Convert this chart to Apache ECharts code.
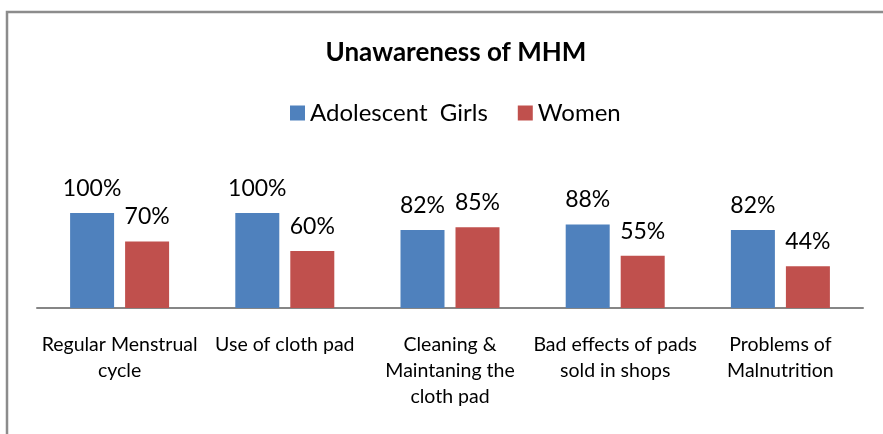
<!DOCTYPE html>
<html>
<head>
<meta charset="utf-8">
<script src="https://cdn.jsdelivr.net/npm/echarts@6/dist/echarts.min.js"></script>
<style>
  html, body { margin: 0; padding: 0; background: #fff; }
  #chart { width: 883px; height: 434px; }
</style>
</head>
<body>
<div id="chart"></div>
<script>
var categories = [
  'Regular Menstrual\ncycle',
  'Use of cloth pad',
  'Cleaning &\nMaintaning the\ncloth pad',
  'Bad effects of pads\nsold in shops',
  'Problems of\nMalnutrition'
];
var girls = [100, 100, 82, 88, 82];
var women = [70, 60, 85, 55, 44];

var chartDom = document.getElementById('chart');
var myChart = echarts.init(chartDom);
var font = 'Lato, "Open Sans", sans-serif';

var valueLabel = {
  show: true,
  position: 'top',
  distance: 13,
  formatter: '{c}%',
  fontFamily: font,
  fontSize: 23,
  color: '#000'
};

var option = {
  animation: false,
  textStyle: { fontFamily: font },
  title: {
    text: 'Unawareness of MHM',
    left: 451,
    top: 35,
    textAlign: 'center',
    textStyle: { fontFamily: font, fontSize: 26, fontWeight: 'bold', color: '#000' }
  },
  legend: {
    top: 96,
    left: 285,
    itemWidth: 15,
    itemHeight: 15,
    itemGap: 30,
    icon: 'rect',
    textStyle: { fontFamily: font, fontSize: 24, color: '#000' },
    data: ['Adolescent  Girls', 'Women']
  },
  graphic: [{
    type: 'rect',
    shape: { x: 7, y: 12, width: 950, height: 600 },
    style: { fill: 'none', stroke: '#8c8c8c', lineWidth: 2.5 },
    silent: true
  }],
  grid: { left: 37, right: 20, top: 213, bottom: 126 },
  xAxis: {
    type: 'category',
    data: categories,
    axisLine: { lineStyle: { color: '#868686', width: 2 } },
    axisTick: { show: false },
    axisLabel: {
      interval: 0,
      margin: 24,
      fontFamily: font,
      fontSize: 19.5,
      lineHeight: 26,
      color: '#000'
    }
  },
  yAxis: {
    type: 'value',
    min: 0,
    max: 100,
    show: false,
    splitLine: { show: false }
  },
  series: [
    {
      name: 'Adolescent  Girls',
      type: 'bar',
      data: girls,
      barWidth: 44,
      barGap: '25%',
      itemStyle: { color: '#4F81BD' },
      label: valueLabel
    },
    {
      name: 'Women',
      type: 'bar',
      data: women,
      barWidth: 44,
      itemStyle: { color: '#C0504D' },
      label: valueLabel
    }
  ]
};

option && myChart.setOption(option);
</script>
</body>
</html>
